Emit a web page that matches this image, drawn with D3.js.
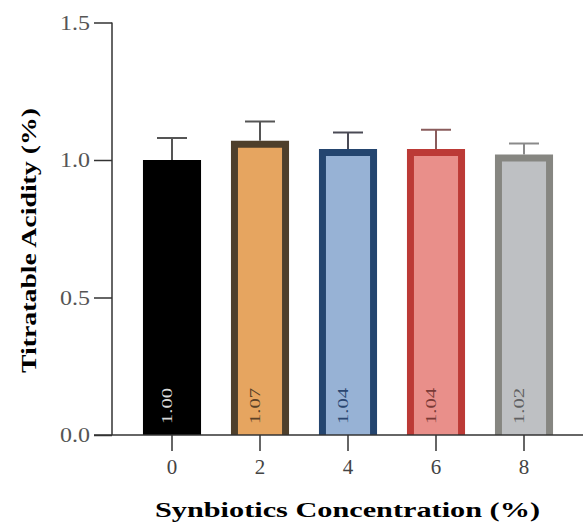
<!DOCTYPE html>
<html><head><meta charset="utf-8">
<script src="https://cdn.jsdelivr.net/npm/d3@7"></script>
<style>html,body{margin:0;padding:0;background:#fff;}svg{display:block;}</style>
</head><body>
<svg id="chart" width="585" height="522"></svg>
<script>
const categories = ["0", "2", "4", "6", "8"];
const values = [1.00, 1.07, 1.04, 1.04, 1.02];
const errors = [0.08, 0.07, 0.06, 0.07, 0.04];
const valueLabels = ["1.00", "1.07", "1.04", "1.04", "1.02"];
const yTicks = [0, 0.5, 1.0, 1.5];
const fills = ["#000000", "#E6A560", "#97B2D5", "#E98F8A", "#BEC0C3"];
const strokes = ["#000000", "#4E3F2B", "#24456F", "#BC3A36", "#868681"];
const errColors = ["#555555", "#555555", "#4a4a55", "#8a5c5c", "#8a8a8a"];
const labelColors = ["#d9d9d9", "#5a4128", "#2a4670", "#7a3a36", "#5f6062"];

const svg = d3.select("#chart");
const font = "Liberation Serif, Times New Roman, serif";
const x = d3.scaleBand().domain(categories).range([128, 568]).paddingInner(0.34).paddingOuter(0.17);
const y = d3.scaleLinear().domain([0, 1.5]).range([435, 22.5]);
const sw = 7;

// bars
const g = svg.append("g");
categories.forEach((c, i) => {
  const x0 = x(c), w = x.bandwidth();
  const top = y(values[i]);
  if (i === 0) {
    g.append("rect").attr("x", x0).attr("y", top).attr("width", w).attr("height", y(0) - top).attr("fill", fills[i]);
  } else {
    g.append("rect").attr("x", x0).attr("y", top).attr("width", w).attr("height", y(0) - top).attr("fill", strokes[i]);
    g.append("rect").attr("x", x0 + sw).attr("y", top + sw).attr("width", w - 2*sw).attr("height", y(0) - top - sw)
      .attr("fill", fills[i]);
  }
  const cx = x0 + w/2;
  const e = y(values[i] + errors[i]);
  g.append("line").attr("x1", cx).attr("x2", cx).attr("y1", top).attr("y2", e).attr("stroke", errColors[i]).attr("stroke-width", 2);
  g.append("line").attr("x1", cx - 15).attr("x2", cx + 15).attr("y1", e).attr("y2", e).attr("stroke", errColors[i]).attr("stroke-width", 2);
  g.append("text").attr("transform", `translate(${cx},${424}) rotate(-90)`)
    .attr("font-family", font).attr("font-size", 15).attr("fill", labelColors[i])
    .attr("textLength", 36).attr("lengthAdjust", "spacingAndGlyphs")
    .text(valueLabels[i]);
});

// y axis
const yAxis = svg.append("g").attr("transform", "translate(112,0)")
  .call(d3.axisLeft(y).tickValues(yTicks).tickFormat(d3.format(".1f")).tickSize(18).tickPadding(4));
yAxis.select(".domain").attr("d", `M0,${y(1.5)}V${y(0)}`).attr("stroke", "#333").attr("stroke-width", 1.5);
yAxis.selectAll(".tick line").attr("stroke", "#333").attr("stroke-width", 1.5);
yAxis.selectAll(".tick text").attr("font-family", font).attr("font-size", 21).attr("fill", "#555")
  .attr("textLength", 30).attr("lengthAdjust", "spacingAndGlyphs").attr("dy", "0.33em");

// x axis
const xAxis = svg.append("g").attr("transform", `translate(0,${y(0)})`)
  .call(d3.axisBottom(x).tickSize(16).tickPadding(8));
xAxis.select(".domain").attr("d", "M94,0H583").attr("stroke", "#333").attr("stroke-width", 1.5);
xAxis.selectAll(".tick line").attr("stroke", "#333").attr("stroke-width", 1.5);
xAxis.selectAll(".tick text").attr("font-family", font).attr("font-size", 21).attr("fill", "#444");

// titles
svg.append("text").attr("x", 347.5).attr("y", 517).attr("text-anchor", "middle")
  .attr("font-family", font).attr("font-weight", "bold").attr("font-size", 21).attr("fill", "#000")
  .attr("textLength", 385).attr("lengthAdjust", "spacingAndGlyphs")
  .text("Synbiotics Concentration (%)");
svg.append("text").attr("transform", "translate(36,240.5) rotate(-90)").attr("text-anchor", "middle")
  .attr("font-family", font).attr("font-weight", "bold").attr("font-size", 21).attr("fill", "#000")
  .attr("textLength", 265).attr("lengthAdjust", "spacingAndGlyphs")
  .text("Titratable Acidity (%)");
</script>
</body></html>
